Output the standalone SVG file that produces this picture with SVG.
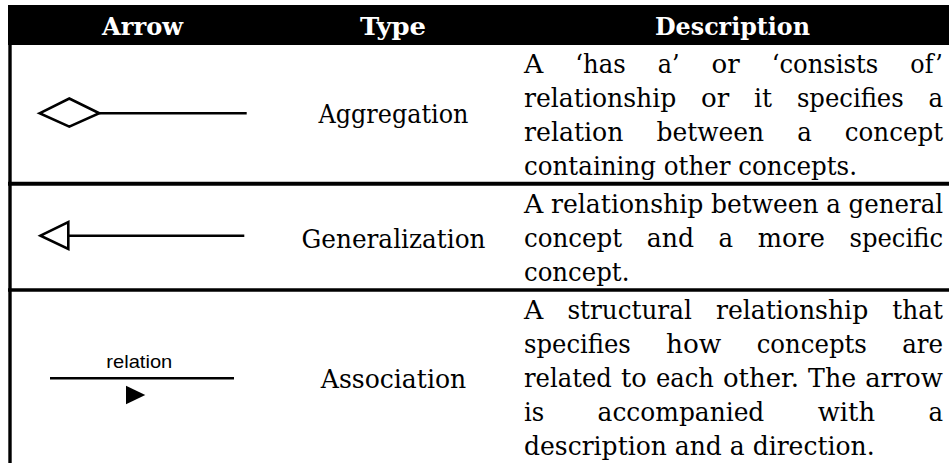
<svg xmlns="http://www.w3.org/2000/svg" width="949" height="463" viewBox="0 0 949 463">
  <style>
    .hd { font-family: "DejaVu Serif", "Liberation Serif", serif; font-weight: bold; font-size: 25px; fill: #fff; text-anchor: middle; }
    .ty { font-family: "DejaVu Serif", "Liberation Serif", serif; font-size: 26px; fill: #000; text-anchor: middle; }
    .d { font-family: "DejaVu Serif", "Liberation Serif", serif; font-size: 26px; fill: #000; }
    .rule { stroke: #000; fill: none; }
    .sym { stroke: #000; stroke-width: 2.6; fill: none; stroke-linejoin: miter; }
    .lbl { font-family: "Liberation Sans", Arial, sans-serif; font-size: 19px; fill: #000; text-anchor: middle; }
  </style>

  <rect width="949" height="463" fill="#fff"/>

  <!-- header band -->
  <g id="header">
    <rect x="8" y="5" width="941" height="40" fill="#000"/>
    <text class="hd" x="142.5" y="35" textLength="81" lengthAdjust="spacingAndGlyphs">Arrow</text>
    <text class="hd" x="393" y="35" textLength="66" lengthAdjust="spacingAndGlyphs">Type</text>
    <text class="hd" x="732.5" y="35" textLength="155" lengthAdjust="spacingAndGlyphs">Description</text>
  </g>

  <!-- table rules -->
  <g id="grid">
    <line class="rule" x1="10" y1="5" x2="10" y2="463" stroke-width="3.4"/>
    <line class="rule" x1="8" y1="183.7" x2="949" y2="183.7" stroke-width="4"/>
    <line class="rule" x1="8" y1="290" x2="949" y2="290" stroke-width="3.6"/>
  </g>

  <!-- arrow symbols -->
  <g id="connectors">
    <g id="aggregation-arrow">
      <polygon class="sym" points="39.5,113.3 69.3,98.5 99.3,113.3 69.3,126.7"/>
      <line class="sym" x1="99.3" y1="113.3" x2="246.7" y2="113.3"/>
    </g>
    <g id="generalization-arrow">
      <polygon class="sym" points="40.5,235.7 68.3,222 68.3,249"/>
      <line class="sym" x1="68.3" y1="235.7" x2="244.3" y2="235.7"/>
    </g>
    <g id="association-arrow">
      <text class="lbl" x="139.3" y="368.3" textLength="66" lengthAdjust="spacingAndGlyphs">relation</text>
      <line class="sym" x1="50" y1="378.3" x2="234" y2="378.3" stroke-width="2.4"/>
      <polygon points="126,385.7 145.3,395 126,404.3" fill="#000"/>
    </g>
  </g>

  <!-- row 1 -->
  <g id="row-aggregation">
    <text class="ty" x="393.5" y="122.5" textLength="150" lengthAdjust="spacingAndGlyphs">Aggregation</text>
    <text class="d" x="524" y="72.5" textLength="19.3" lengthAdjust="spacingAndGlyphs">A</text>
    <text class="d" x="575.3" y="72.5" textLength="50.3" lengthAdjust="spacingAndGlyphs">‘has</text>
    <text class="d" x="657.7" y="72.5" textLength="21.8" lengthAdjust="spacingAndGlyphs">a’</text>
    <text class="d" x="711.5" y="72.5" textLength="28.2" lengthAdjust="spacingAndGlyphs">or</text>
    <text class="d" x="771.7" y="72.5" textLength="106.6" lengthAdjust="spacingAndGlyphs">‘consists</text>
    <text class="d" x="910.3" y="72.5" textLength="32.5" lengthAdjust="spacingAndGlyphs">of’</text>

    <text class="d" x="524" y="106.5" textLength="152.3" lengthAdjust="spacingAndGlyphs">relationship</text>
    <text class="d" x="701.1" y="106.5" textLength="28.2" lengthAdjust="spacingAndGlyphs">or</text>
    <text class="d" x="754.1" y="106.5" textLength="18" lengthAdjust="spacingAndGlyphs">it</text>
    <text class="d" x="796.9" y="106.5" textLength="106.8" lengthAdjust="spacingAndGlyphs">specifies</text>
    <text class="d" x="928.5" y="106.5" textLength="14.6" lengthAdjust="spacingAndGlyphs">a</text>

    <text class="d" x="524" y="140.5" textLength="99.4" lengthAdjust="spacingAndGlyphs">relation</text>
    <text class="d" x="656.5" y="140.5" textLength="107.6" lengthAdjust="spacingAndGlyphs">between</text>
    <text class="d" x="797.2" y="140.5" textLength="14.6" lengthAdjust="spacingAndGlyphs">a</text>
    <text class="d" x="844.8" y="140.5" textLength="98.2" lengthAdjust="spacingAndGlyphs">concept</text>

    <text class="d" x="524" y="174.5" textLength="333" lengthAdjust="spacingAndGlyphs">containing other concepts.</text>
  </g>

  <!-- row 2 -->
  <g id="row-generalization">
    <text class="ty" x="393.5" y="247.5" textLength="184" lengthAdjust="spacingAndGlyphs">Generalization</text>
    <text class="d" x="524" y="213.2" textLength="19.3" lengthAdjust="spacingAndGlyphs">A</text>
    <text class="d" x="551" y="213.2" textLength="152.3" lengthAdjust="spacingAndGlyphs">relationship</text>
    <text class="d" x="711" y="213.2" textLength="107.6" lengthAdjust="spacingAndGlyphs">between</text>
    <text class="d" x="826.3" y="213.2" textLength="14.6" lengthAdjust="spacingAndGlyphs">a</text>
    <text class="d" x="848.6" y="213.2" textLength="94.5" lengthAdjust="spacingAndGlyphs">general</text>

    <text class="d" x="524" y="247.2" textLength="98.2" lengthAdjust="spacingAndGlyphs">concept</text>
    <text class="d" x="646.8" y="247.2" textLength="47.2" lengthAdjust="spacingAndGlyphs">and</text>
    <text class="d" x="718.6" y="247.2" textLength="14.6" lengthAdjust="spacingAndGlyphs">a</text>
    <text class="d" x="757.8" y="247.2" textLength="67.1" lengthAdjust="spacingAndGlyphs">more</text>
    <text class="d" x="849.5" y="247.2" textLength="93.5" lengthAdjust="spacingAndGlyphs">specific</text>

    <text class="d" x="524" y="281.2" textLength="105.4" lengthAdjust="spacingAndGlyphs">concept.</text>
  </g>

  <!-- row 3 -->
  <g id="row-association">
    <text class="ty" x="393.5" y="387.5" textLength="145.5" lengthAdjust="spacingAndGlyphs">Association</text>
    <text class="d" x="524" y="319.2" textLength="19.3" lengthAdjust="spacingAndGlyphs">A</text>
    <text class="d" x="567.4" y="319.2" textLength="124.4" lengthAdjust="spacingAndGlyphs">structural</text>
    <text class="d" x="715.9" y="319.2" textLength="152.3" lengthAdjust="spacingAndGlyphs">relationship</text>
    <text class="d" x="892.3" y="319.2" textLength="50.7" lengthAdjust="spacingAndGlyphs">that</text>

    <text class="d" x="524" y="353.2" textLength="106.8" lengthAdjust="spacingAndGlyphs">specifies</text>
    <text class="d" x="666.1" y="353.2" textLength="55.3" lengthAdjust="spacingAndGlyphs">how</text>
    <text class="d" x="756.7" y="353.2" textLength="110.2" lengthAdjust="spacingAndGlyphs">concepts</text>
    <text class="d" x="902.2" y="353.2" textLength="40.9" lengthAdjust="spacingAndGlyphs">are</text>

    <text class="d" x="524" y="387.2" textLength="87.8" lengthAdjust="spacingAndGlyphs">related</text>
    <text class="d" x="620.9" y="387.2" textLength="25.8" lengthAdjust="spacingAndGlyphs">to</text>
    <text class="d" x="655.9" y="387.2" textLength="58" lengthAdjust="spacingAndGlyphs">each</text>
    <text class="d" x="723" y="387.2" textLength="75.9" lengthAdjust="spacingAndGlyphs">other.</text>
    <text class="d" x="808.1" y="387.2" textLength="48" lengthAdjust="spacingAndGlyphs">The</text>
    <text class="d" x="865.2" y="387.2" textLength="77.7" lengthAdjust="spacingAndGlyphs">arrow</text>

    <text class="d" x="524" y="421.2" textLength="20.2" lengthAdjust="spacingAndGlyphs">is</text>
    <text class="d" x="597.6" y="421.2" textLength="166.7" lengthAdjust="spacingAndGlyphs">accompanied</text>
    <text class="d" x="817.7" y="421.2" textLength="57.3" lengthAdjust="spacingAndGlyphs">with</text>
    <text class="d" x="928.4" y="421.2" textLength="14.6" lengthAdjust="spacingAndGlyphs">a</text>

    <text class="d" x="524" y="455.2" textLength="350.6" lengthAdjust="spacingAndGlyphs">description and a direction.</text>
  </g>
</svg>
